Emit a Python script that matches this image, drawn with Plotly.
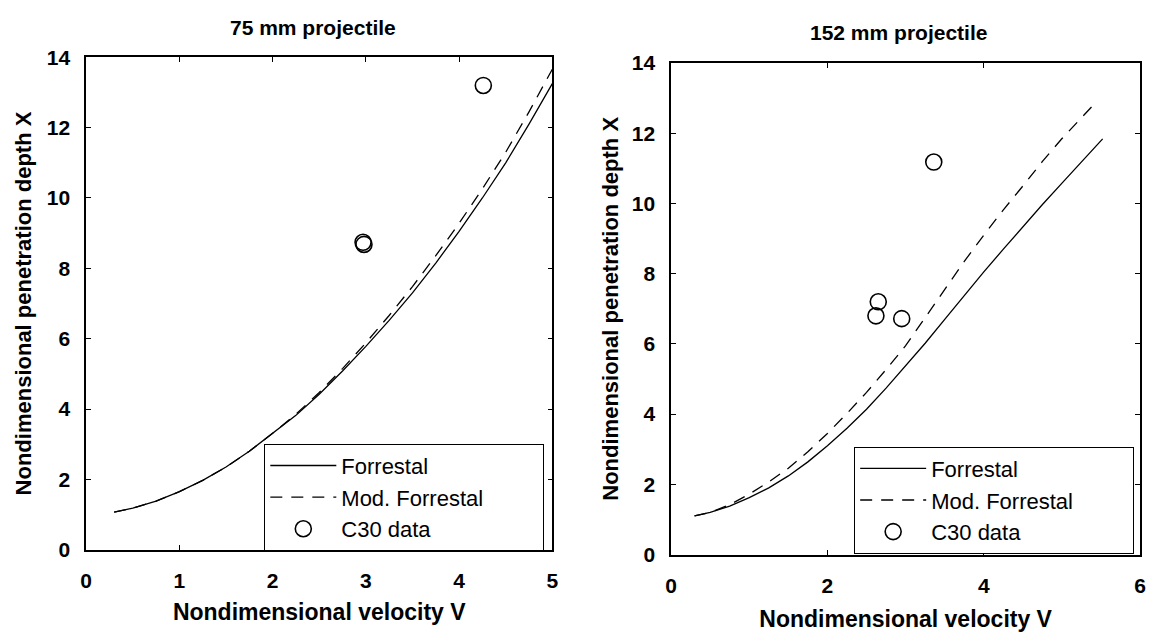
import plotly.graph_objects as go

# ---- 75 mm projectile ----
v75 = [0.3, 0.5, 0.75, 1.0, 1.25, 1.5, 1.75, 2.0, 2.25, 2.5, 2.75, 3.0,
       3.25, 3.5, 3.75, 4.0, 4.25, 4.5, 4.75, 5.0]
forrestal75 = [1.07, 1.18, 1.38, 1.65, 1.97, 2.35, 2.8, 3.3, 3.82, 4.42, 5.08, 5.78,
               6.52, 7.3, 8.15, 9.05, 10.0, 11.0, 12.1, 13.25]
mod75 = [1.07, 1.18, 1.38, 1.65, 1.97, 2.35, 2.8, 3.31, 3.85, 4.47, 5.15, 5.88,
         6.66, 7.48, 8.36, 9.28, 10.26, 11.3, 12.45, 13.66]
c30_v75 = [2.97, 2.98, 4.26]
c30_x75 = [8.74, 8.68, 13.2]

# ---- 152 mm projectile ----
v152 = [0.3, 0.5, 0.75, 1.0, 1.25, 1.5, 1.75, 2.0, 2.25, 2.5, 2.75, 3.0,
        3.25, 3.5, 3.75, 4.0, 4.25, 4.5, 4.75, 5.0, 5.25, 5.52]
forrestal152 = [1.1, 1.2, 1.38, 1.62, 1.9, 2.24, 2.64, 3.1, 3.6, 4.14, 4.74, 5.37,
                6.02, 6.7, 7.38, 8.05, 8.7, 9.35, 9.97, 10.58, 11.2, 11.84]
v152_mod = [0.3, 0.5, 0.75, 1.0, 1.25, 1.5, 1.75, 2.0, 2.25, 2.5, 2.75, 3.0,
            3.25, 3.5, 3.75, 4.0, 4.25, 4.5, 4.75, 5.0, 5.25, 5.42]
mod152 = [1.1, 1.2, 1.42, 1.72, 2.07, 2.46, 2.93, 3.45, 4.02, 4.62, 5.27, 5.95,
          6.75, 7.55, 8.35, 9.1, 9.82, 10.5, 11.2, 11.85, 12.45, 12.85]
c30_v152 = [2.62, 2.65, 2.95, 3.36]
c30_x152 = [6.8, 7.2, 6.72, 11.18]

series_names = ["Forrestal", "Mod. Forrestal", "C30 data"]

W, H = 1164, 633
FONT = "Liberation Sans"
NBSP = "\u00a0"

fig = go.Figure()

def add_panel(v, xf, vm, xm, cv, cx, xa, ya, leg):
    fig.add_trace(go.Scatter(x=v, y=xf, mode="lines", name=series_names[0],
                             line=dict(color="black", width=1.3),
                             xaxis=xa, yaxis=ya, legend=leg))
    # trailing spaces keep the legend frame wide like the original figure
    fig.add_trace(go.Scatter(x=vm, y=xm, mode="lines", name=series_names[1] + NBSP * 9,
                             line=dict(color="black", width=1.3, dash="12px,9px"),
                             xaxis=xa, yaxis=ya, legend=leg))
    fig.add_trace(go.Scatter(x=cv, y=cx, mode="markers", name=series_names[2],
                             marker=dict(symbol="circle-open", size=16, color="black",
                                         line=dict(width=1.6, color="black")),
                             xaxis=xa, yaxis=ya, legend=leg))

add_panel(v75, forrestal75, v75, mod75, c30_v75, c30_x75, "x", "y", "legend")
add_panel(v152, forrestal152, v152_mod, mod152, c30_v152, c30_x152, "x2", "y2", "legend2")

axis_common = dict(showline=True, linecolor="black", linewidth=1.5, mirror="ticks",
                   ticks="inside", ticklen=5, tickwidth=1.2, tickcolor="black",
                   showgrid=False, zeroline=False,
                   tickfont=dict(family=FONT, size=21, color="black", weight="bold"))
xtitle_font = dict(family=FONT, size=23, color="black", weight="bold")
ytitle_font = dict(family=FONT, size=22, color="black", weight="bold")

def px_x(a, b):
    return [a / W, b / W]

def px_y(top, bottom):
    return [1 - bottom / H, 1 - top / H]

legend_common = dict(bgcolor="white", bordercolor="black", borderwidth=1,
                     font=dict(family=FONT, size=22, color="black"),
                     xanchor="left", yanchor="top", itemwidth=66,
                     tracegroupgap=0)

fig.update_layout(
    width=W, height=H,
    margin=dict(l=0, r=0, t=0, b=0),
    paper_bgcolor="white", plot_bgcolor="white",
    showlegend=True,
    xaxis=dict(domain=px_x(81, 552), range=[0, 5], dtick=1, anchor="y", ticklabelstandoff=11,
               title=dict(text="Nondimensional velocity V", standoff=13, font=xtitle_font),
               **axis_common),
    yaxis=dict(domain=px_y(47, 558), range=[0, 14], dtick=2, anchor="x", ticklabelstandoff=10,
               title=dict(text="Nondimensional penetration depth X", standoff=9, font=ytitle_font),
               **axis_common),
    xaxis2=dict(domain=px_x(672, 1146), range=[0, 6], dtick=2, anchor="y2", ticklabelstandoff=12,
                title=dict(text="Nondimensional velocity V", standoff=14, font=xtitle_font),
                **axis_common),
    yaxis2=dict(domain=px_y(53, 563), range=[0, 14], dtick=2, anchor="x2", ticklabelstandoff=10,
                title=dict(text="Nondimensional penetration depth X", standoff=7, font=ytitle_font),
                **axis_common),
    legend=dict(x=261 / W, y=1 - 448 / H, **legend_common),
    legend2=dict(x=857 / W, y=1 - 451 / H, **legend_common),
    annotations=[
        dict(text="75 mm projectile", x=310 / W, y=1 - 16 / H, xref="paper", yref="paper",
             showarrow=False, xanchor="center", yanchor="middle",
             font=dict(family=FONT, size=21, color="black", weight="bold")),
        dict(text="152 mm projectile", x=902 / W, y=1 - 21 / H, xref="paper", yref="paper",
             showarrow=False, xanchor="center", yanchor="middle",
             font=dict(family=FONT, size=21, color="black", weight="bold")),
    ],
)

fig.write_html("out.html")
